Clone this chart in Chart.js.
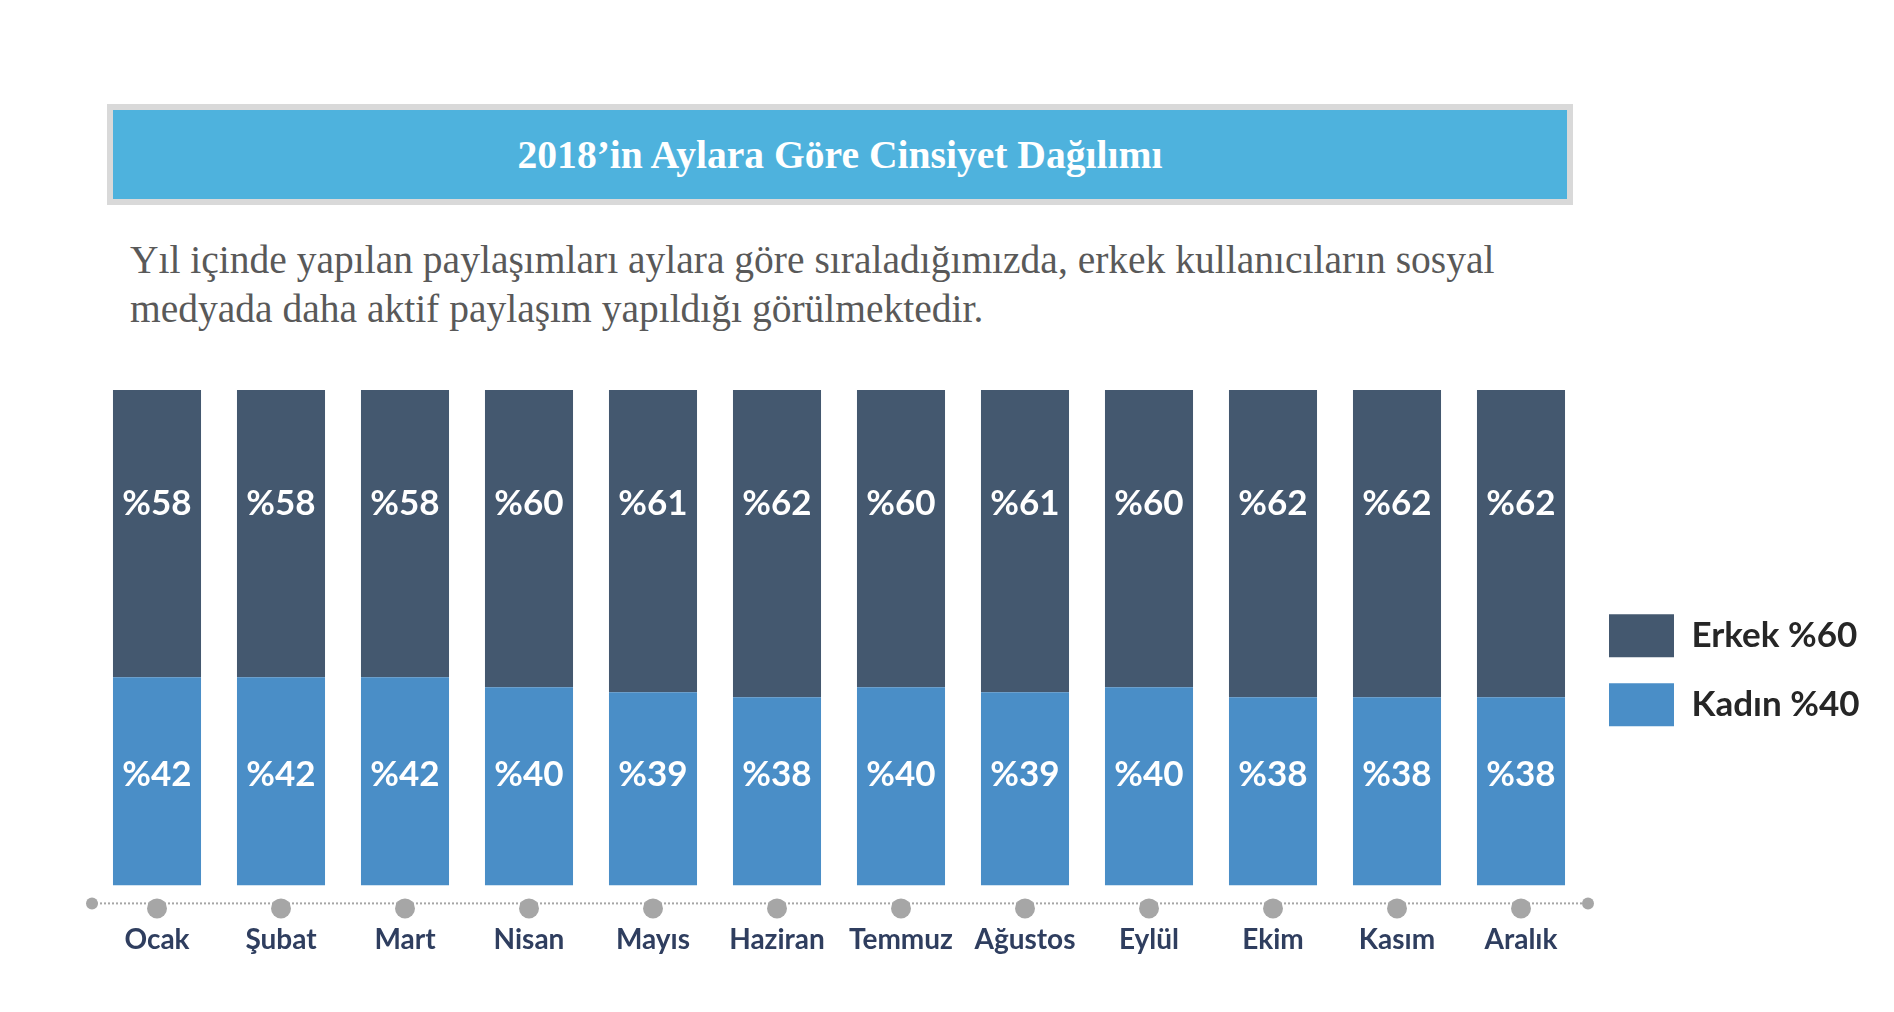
<!DOCTYPE html>
<html lang="tr"><head><meta charset="utf-8">
<script src="https://cdn.jsdelivr.net/npm/chart.js@4"></script>
<style>
html,body{margin:0;padding:0;background:#fff;width:1894px;height:1012px;overflow:hidden}
#wrap{position:relative;width:1894px;height:1012px}
#titlebox{position:absolute;left:107px;top:104px;width:1454px;height:88px;border:6px solid #D9D9D9;background:#4EB2DD;display:flex;align-items:center;justify-content:center;color:#fff;font:bold 39.6px "Liberation Serif",serif;box-sizing:content-box;padding-top:1px}
#sub{position:absolute;left:130px;top:236px;font:39.5px/49px "Liberation Serif",serif;color:#595959;white-space:nowrap}
#chartbox{position:absolute;left:0;top:0;width:1894px;height:1012px}
</style></head>
<body><div id="wrap">
<div id="titlebox">2018’in Aylara Göre Cinsiyet Dağılımı</div>
<div id="sub">Yıl içinde yapılan paylaşımları aylara göre sıraladığımızda, erkek kullanıcıların sosyal<br>medyada daha aktif paylaşım yapıldığı görülmektedir.</div>
<div id="chartbox"><canvas id="c"></canvas></div>
</div>
<script>
const months = ['Ocak','Şubat','Mart','Nisan','Mayıs','Haziran','Temmuz','Ağustos','Eylül','Ekim','Kasım','Aralık'];
const erkek = [58,58,58,60,61,62,60,61,60,62,62,62];
const kadin = [42,42,42,40,39,38,40,39,40,38,38,38];
const seriesLabels = ['Kadın %40','Erkek %60'];

const DARK = '#44586F', LIGHT = '#4A8EC7';
const LABEL_LEVEL = [22.4, 77];

const axisDeco = {
  id:'axisDeco',
  beforeDatasetsDraw(chart){
    const {ctx, chartArea:a, scales:{x}} = chart;
    const yl = a.bottom + 18;
    ctx.save();
    ctx.strokeStyle = '#A6A6A6'; ctx.lineWidth = 2; ctx.setLineDash([2,2]);
    ctx.beginPath(); ctx.moveTo(a.left-3, yl); ctx.lineTo(a.right+5, yl); ctx.stroke();
    ctx.setLineDash([]); ctx.fillStyle = '#A6A6A6';
    [a.left-3, a.right+5].forEach(px => { ctx.beginPath(); ctx.arc(px, yl, 6, 0, Math.PI*2); ctx.fill(); });
    months.forEach((m,i) => { const px = x.getPixelForValue(i); ctx.beginPath(); ctx.arc(px, yl+5, 10, 0, Math.PI*2); ctx.fill(); });
    ctx.restore();
  }
};
const valueLabels = {
  id:'valueLabels',
  afterDatasetsDraw(chart){
    const {ctx, scales:{y}} = chart;
    ctx.save();
    ctx.font = 'bold 35px Lato'; ctx.fillStyle = '#fff'; ctx.textAlign = 'center'; ctx.textBaseline = 'middle';
    chart.data.datasets.forEach((ds, di) => {
      const meta = chart.getDatasetMeta(di);
      const yp = y.getPixelForValue(LABEL_LEVEL[di]);
      meta.data.forEach((bar, i) => ctx.fillText('%' + ds.data[i], bar.x, yp));
    });
    ctx.restore();
  }
};

const mctx = document.createElement('canvas').getContext('2d');
mctx.font = 'bold 35px Lato';
const tw = Math.max(...seriesLabels.map(s => mctx.measureText(s).width));
const legendW = 26 + 65 + 17.5 + tw + 10;
const padRight = Math.max(0, 1894 - 1583 - legendW);

new Chart(document.getElementById('c'), {
  type:'bar',
  data:{
    labels: months,
    datasets:[
      {label: seriesLabels[0], data: kadin, backgroundColor: LIGHT, borderWidth:0},
      {label: seriesLabels[1], data: erkek, backgroundColor: DARK, borderWidth:0}
    ]
  },
  options:{
    responsive:true, maintainAspectRatio:false, animation:false,
    layout:{padding:{left:95, top:390, right:padRight, bottom:17}},
    datasets:{bar:{categoryPercentage:1, barPercentage:0.71}},
    scales:{
      x:{stacked:true, grid:{display:false, drawTicks:false}, border:{display:false},
         ticks:{padding:38, color:'#2F3E5F', font:{family:'Lato', weight:'bold', size:28}}},
      y:{stacked:true, display:false, min:0, max:100}
    },
    plugins:{
      tooltip:{enabled:false},
      legend:{position:'right', align:'center', fullSize:false, reverse:true,
        title:{display:true, text:'', padding:{top:55, bottom:0}, font:{size:10, lineHeight:1}},
        labels:{boxWidth:65, boxHeight:43, padding:26, color:'#262626', font:{family:'Lato', weight:'bold', size:35}}}
    }
  },
  plugins:[axisDeco, valueLabels]
});
</script>
</body></html>
